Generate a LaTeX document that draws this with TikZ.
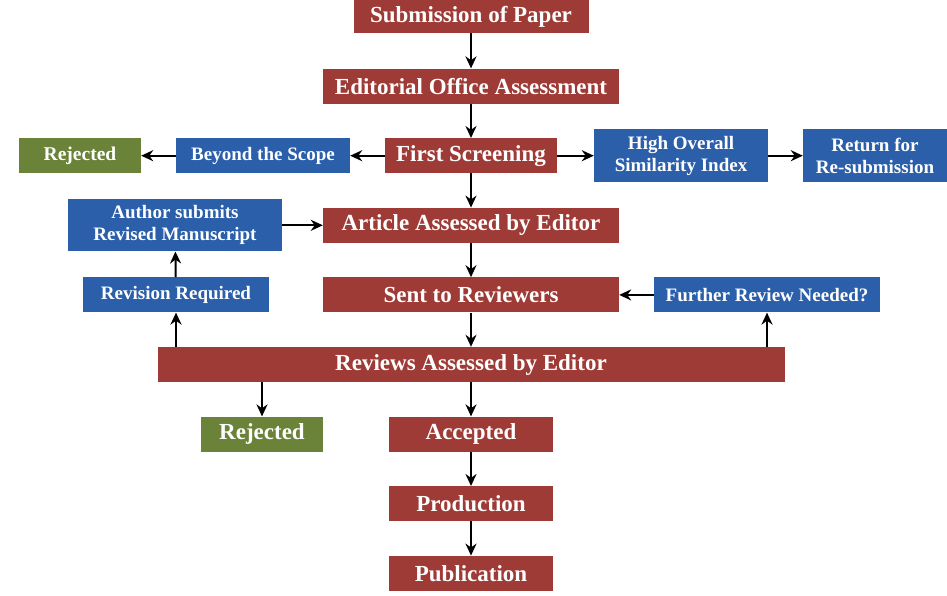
\documentclass[tikz,border=0pt]{standalone}
\usepackage{fontspec}
\setmainfont{Liberation Serif}
\usetikzlibrary{positioning,arrows.meta}

\definecolor{boxred}{RGB}{158,59,54}
\definecolor{boxblue}{RGB}{43,95,170}
\definecolor{boxgreen}{RGB}{107,130,57}

\tikzset{
  redbox/.style={fill=boxred,text=white,inner sep=0pt,minimum height=35pt,
    font=\fontsize{23}{25}\selectfont\bfseries},
  bluebox/.style={fill=boxblue,text=white,inner sep=0pt,minimum height=35pt,
    align=center,font=\fontsize{19}{22}\selectfont\bfseries},
  greenbox/.style={fill=boxgreen,text=white,inner sep=0pt,minimum height=35pt,
    font=\fontsize{19.5}{22}\selectfont\bfseries},
  flow/.style={-{Stealth[length=12pt,width=11pt]},line width=2pt,black}
}

\begin{document}
\begin{tikzpicture}[x=1pt,y=-1pt,node distance=69.6pt,on grid]
      \useasboundingbox (0,0) rectangle (947,595);
      \node[redbox,minimum width=235pt,minimum height=33pt] (sub) at (471,16.5) {Submission of Paper};
      \node[redbox,minimum width=296pt] (eoa) [below=of sub] {Editorial Office Assessment};
      \node[redbox,minimum width=172pt] (fs)  [below=of eoa] {First Screening};
      \node[redbox,minimum width=296pt] (aae) [below=of fs]  {Article Assessed by Editor};
      \node[redbox,minimum width=296pt] (str) [below=of aae] {Sent to Reviewers};
      \node[redbox,minimum width=627pt] (rae) [below=of str] {Reviews Assessed by Editor};
      \node[redbox,minimum width=164pt] (acc) [below=of rae] {Accepted};
      \node[redbox,minimum width=164pt] (prd) [below=of acc] {Production};
      \node[redbox,minimum width=164pt] (pub) [below=of prd] {Publication};

      \node[bluebox,minimum width=174pt] (bts) [left=208pt of fs]  {Beyond the Scope};
      \node[greenbox,minimum width=122pt] (rj1) [left=183pt of bts] {Rejected};
      \node[bluebox,minimum width=174pt,minimum height=53pt] (hos) [right=210pt of fs] {High Overall\\Similarity Index};
      \node[bluebox,minimum width=144pt,minimum height=53pt] (ret) [right=194pt of hos] {Return for\\Re-submission};
      \node[bluebox,minimum width=214pt,minimum height=52pt] (asr) [left=296pt of aae] {Author submits\\Revised Manuscript};
      \node[bluebox,minimum width=186pt] (rvr) [left=295pt of str] {Revision Required};
      \node[bluebox,minimum width=226pt] (frn) [right=296pt of str] {Further Review Needed?};
      \node[greenbox,minimum width=122pt,font=\fontsize{23}{25}\selectfont\bfseries]
           (rj2) [below left=69.6pt and 209pt of rae] {Rejected};

      \path[flow] (sub) edge (eoa)
                  (eoa) edge (fs)
                  (fs)  edge (aae)
                  (aae) edge (str)
                  (str) edge (rae)
                  (rae) edge (acc)
                  (acc) edge (prd)
                  (prd) edge (pub)
                  (fs)  edge (bts)
                  (bts) edge (rj1)
                  (fs)  edge (hos)
                  (hos) edge (ret)
                  (asr) edge (aae)
                  (rvr) edge (asr)
                  (frn) edge (str)
                  (rae.north -| rvr.south) edge (rvr)
                  (rae.north -| frn.south) edge (frn)
                  (rae.south -| rj2.north) edge (rj2);
    \end{tikzpicture}
\end{document}
